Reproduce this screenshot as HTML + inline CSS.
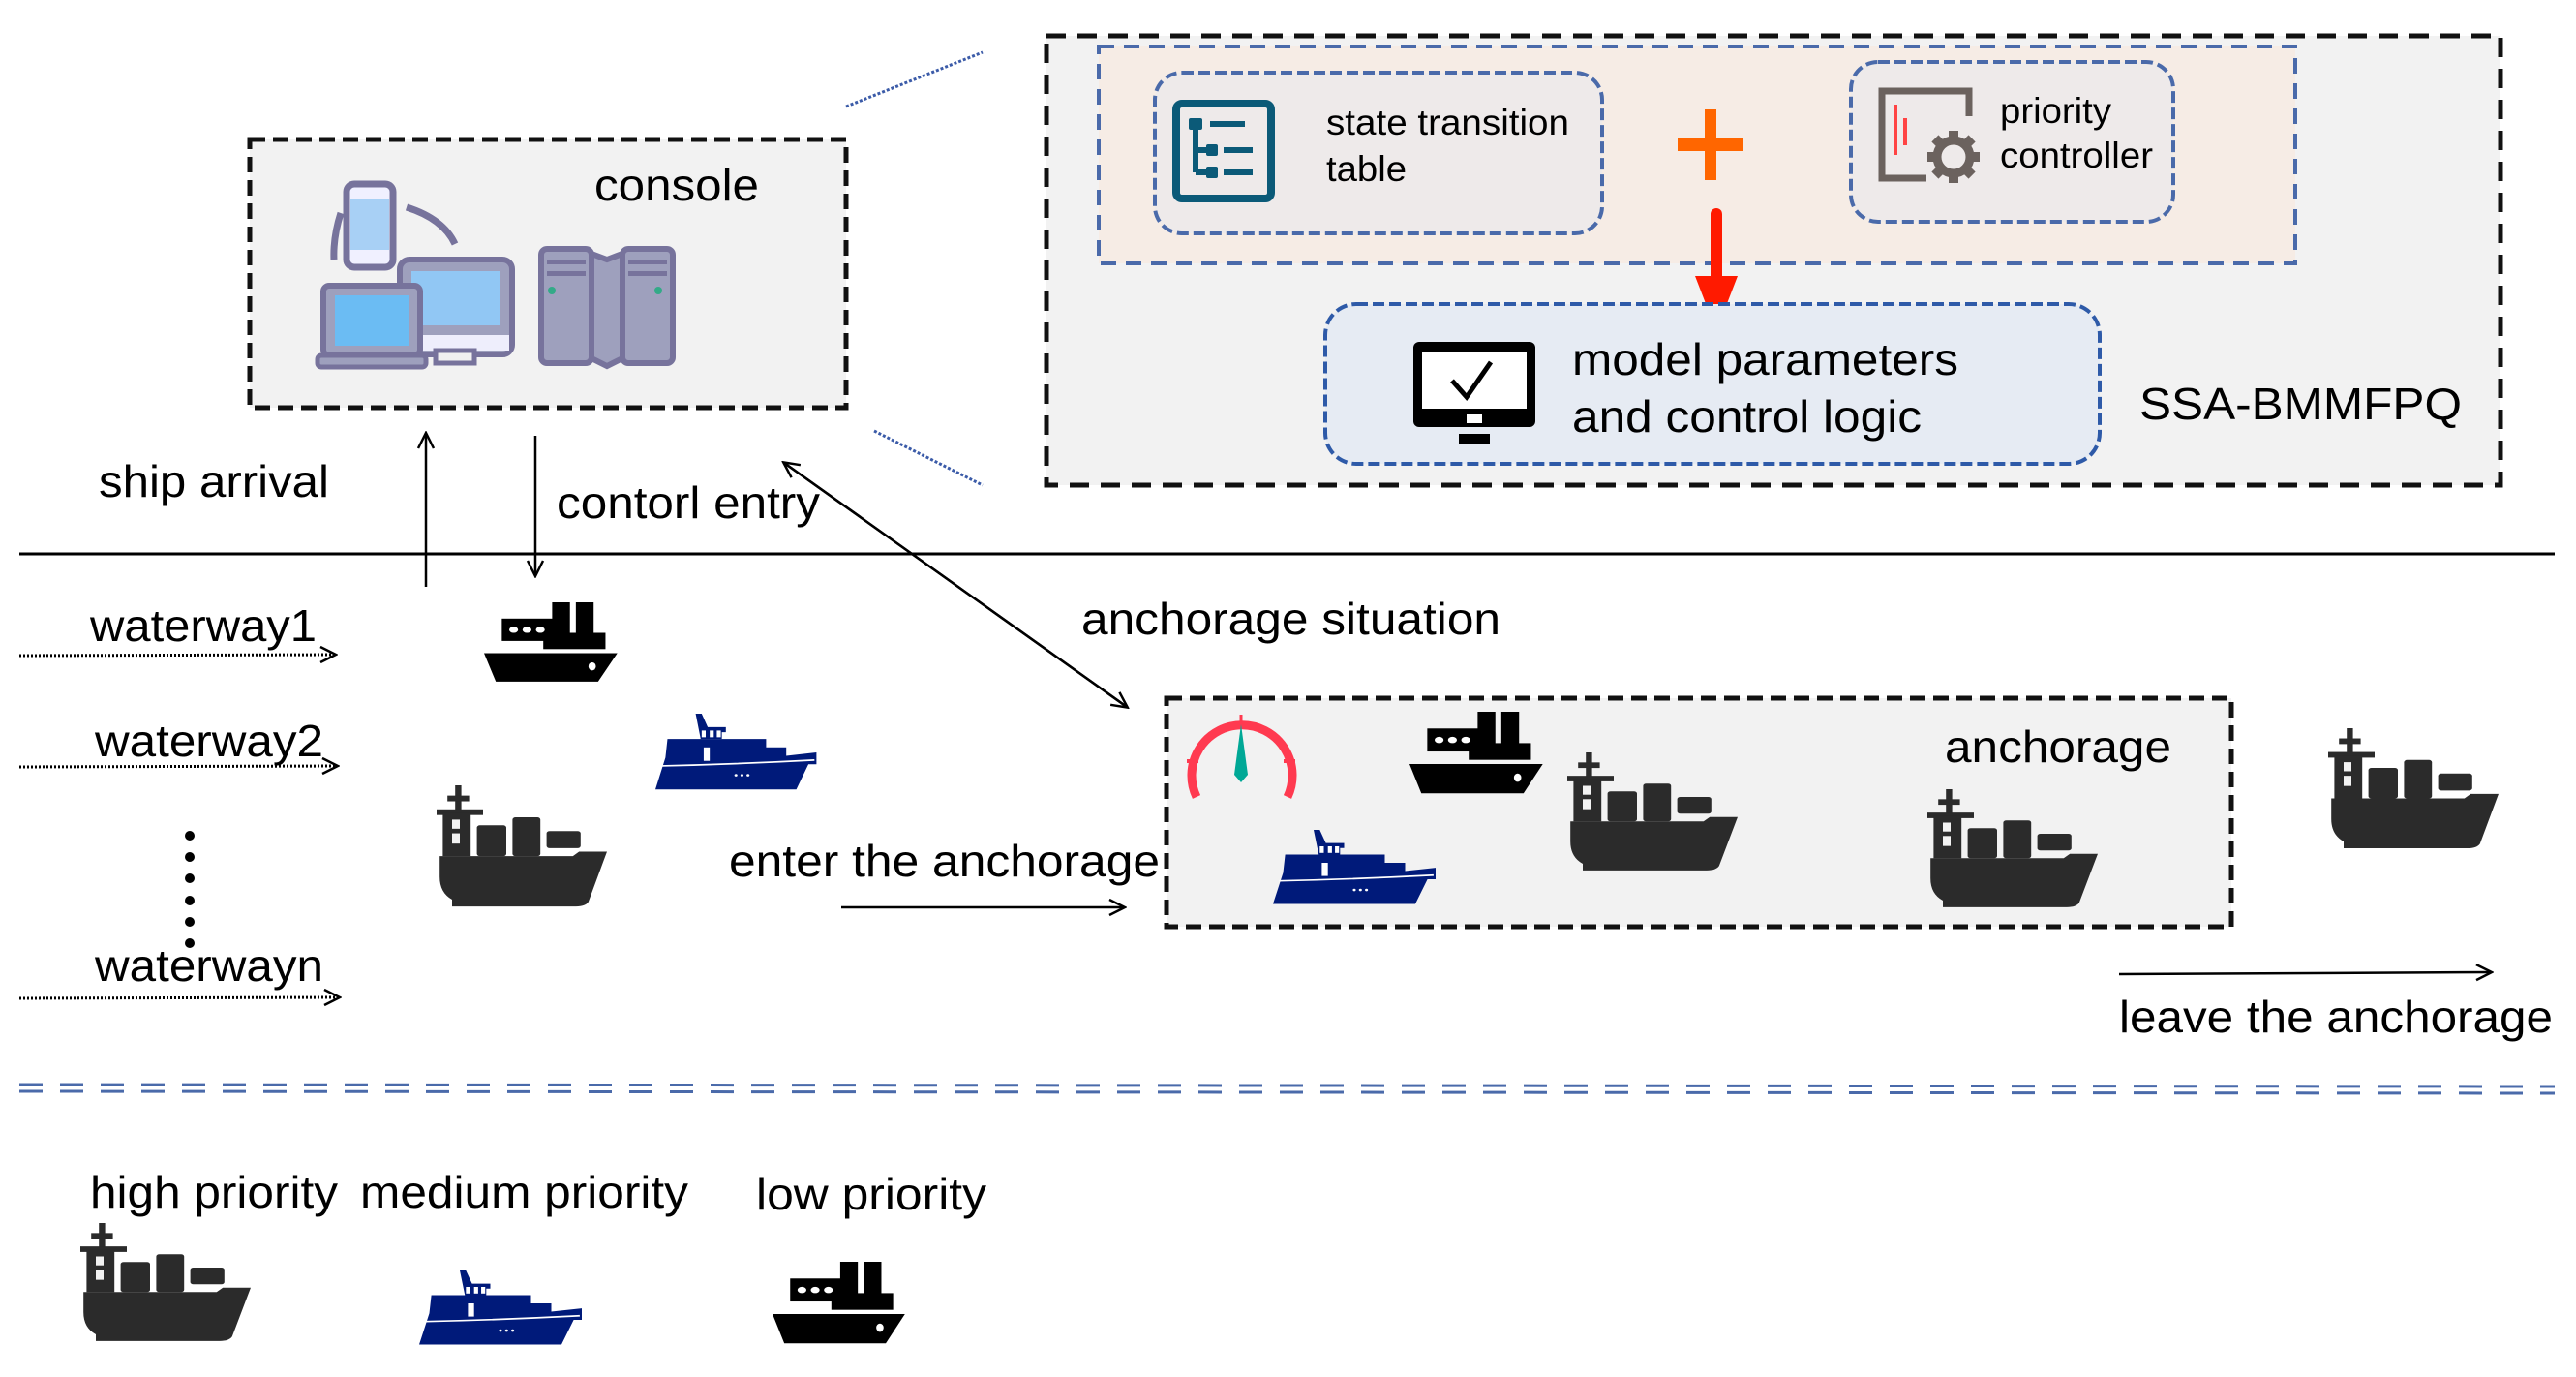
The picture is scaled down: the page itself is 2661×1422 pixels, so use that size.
<!DOCTYPE html>
<html><head><meta charset="utf-8"><style>
html,body{margin:0;padding:0;background:#fff;}
svg{display:block;}
text{font-family:"Liberation Sans",Arial,sans-serif;fill:#000;}
</style></head><body>
<svg width="2661" height="1422" viewBox="0 0 2661 1422" xmlns="http://www.w3.org/2000/svg">
<defs>
<marker id="ah" markerWidth="20" markerHeight="20" refX="17" refY="10" orient="auto" markerUnits="userSpaceOnUse">
<path d="M2,2 L18,10 L2,18" fill="none" stroke="#000" stroke-width="2.5"/>
</marker>
<g id="cargo">
<rect x="12" y="0" width="4" height="22" fill="#2b2b2b"/>
<rect x="7" y="9" width="14" height="5" fill="#2b2b2b"/>
<rect x="0" y="21" width="30" height="5" fill="#2b2b2b"/>
<rect x="4" y="24" width="18" height="38" fill="#2b2b2b"/>
<rect x="10" y="30" width="5" height="8" fill="#f2f2f2"/>
<rect x="10" y="42" width="5" height="9" fill="#f2f2f2"/>
<rect x="26" y="35" width="19" height="27" rx="2" fill="#2b2b2b"/>
<rect x="49" y="28" width="18" height="34" rx="2" fill="#2b2b2b"/>
<rect x="71" y="40" width="22" height="15" rx="2" fill="#2b2b2b"/>
<path d="M2,62 L88,62 L92,58 L110,58 L98,102 Q96,106 90,106 L10,106 L10,100 Q2,94 2,80 Z" fill="#2b2b2b"/>
</g>
<g id="small">
<rect x="46" y="0" width="12" height="32" fill="#000"/>
<rect x="62" y="0" width="12" height="32" fill="#000"/>
<rect x="12" y="16" width="38" height="22" fill="#000"/>
<rect x="40" y="30" width="42" height="16" fill="#000"/>
<circle cx="20" cy="27" r="3" fill="#fff"/><circle cx="29" cy="27" r="3" fill="#fff"/><circle cx="38" cy="27" r="3" fill="#fff"/>
<path d="M0,50 L90,50 L77,78 L8,78 Z" fill="#000"/>
<ellipse cx="73" cy="63" rx="2.5" ry="4" fill="#fff"/>
</g>
<g id="yacht">
<path d="M40,0 L46,0 L52,16 L70,16 L70,22 L66,22 L66,30 L45,30 Z" fill="#001a7a"/>
<rect x="46" y="20" width="4" height="8" fill="#fff"/><rect x="54" y="20" width="4" height="8" fill="#fff"/><rect x="61" y="20" width="4" height="8" fill="#fff"/>
<path d="M12,30 L110,30 L110,40 L130,40 L130,50 L160,46 L160,60 L152,60 L140,90 L0,90 L10,52 Z" fill="#001a7a"/>
<rect x="48" y="40" width="6" height="16" fill="#fff"/>
<path d="M6,62 Q80,60 158,55" stroke="#fff" stroke-width="2" fill="none"/>
<circle cx="80" cy="73" r="1.5" fill="#fff"/><circle cx="86" cy="73" r="1.5" fill="#fff"/><circle cx="92" cy="73" r="1.5" fill="#fff"/>
</g>
</defs>

<rect x="258" y="144" width="616" height="277" fill="#f2f2f2" stroke="#111" stroke-width="5" stroke-dasharray="16,8"/>
<text x="614" y="207" font-size="46" textLength="170" lengthAdjust="spacingAndGlyphs">console</text>
<g stroke="#77739c" stroke-width="7" fill="none">
<path d="M345,268 Q344,245 352,220"/><path d="M420,214 Q458,226 470,252"/>
</g>
<rect x="358" y="190" width="48" height="86" rx="8" fill="#f0f0ff" stroke="#77739c" stroke-width="7"/>
<rect x="362" y="206" width="40" height="52" fill="#a8d0f5"/>
<rect x="413" y="268" width="116" height="98" rx="10" fill="#9ea0bd" stroke="#77739c" stroke-width="6"/>
<rect x="425" y="280" width="92" height="56" fill="#91c7f4"/>
<rect x="418" y="346" width="108" height="16" fill="#eeeefc"/>
<rect x="450" y="362" width="40" height="13" fill="#f0f0f0" stroke="#77739c" stroke-width="5"/>
<rect x="334" y="295" width="100" height="72" rx="6" fill="#9ea0bd" stroke="#77739c" stroke-width="6"/>
<rect x="346" y="305" width="76" height="52" fill="#6bbcf3"/>
<rect x="328" y="367" width="112" height="12" rx="4" fill="#9ea0bd" stroke="#77739c" stroke-width="5"/>
<g fill="#9ea0bd" stroke="#77739c" stroke-width="6">
<rect x="559" y="257" width="52" height="118" rx="6"/>
<rect x="643" y="257" width="52" height="118" rx="6"/>
<path d="M611,262 L627,268 L643,262 L643,370 L627,378 L611,370 Z"/>
</g>
<g fill="#77739c">
<rect x="565" y="268" width="40" height="5"/><rect x="565" y="280" width="40" height="5"/>
<rect x="649" y="268" width="40" height="5"/><rect x="649" y="280" width="40" height="5"/>
</g>
<circle cx="570" cy="300" r="4" fill="#33aa88"/><circle cx="680" cy="300" r="4" fill="#33aa88"/>

<line x1="874" y1="110" x2="1015" y2="54" stroke="#3b5ba8" stroke-width="3" stroke-dasharray="3,2"/>
<line x1="903" y1="445" x2="1015" y2="501" stroke="#3b5ba8" stroke-width="3" stroke-dasharray="3,2"/>

<rect x="1081" y="37" width="1502" height="464" fill="#f2f2f2" stroke="#111" stroke-width="5" stroke-dasharray="20,12"/>
<rect x="1135" y="48" width="1236" height="224" fill="#f6ece5" stroke="#4a6aaa" stroke-width="4" stroke-dasharray="16,10"/>
<rect x="1193" y="75" width="462" height="166" rx="28" fill="#eeeaea" stroke="#4a6aaa" stroke-width="4" stroke-dasharray="12,5"/>
<rect x="1215" y="107" width="98" height="98" rx="6" fill="none" stroke="#0b5a78" stroke-width="8"/>
<g stroke="#0b5a78" stroke-width="6" fill="none">
<line x1="1235" y1="128" x2="1235" y2="178"/><line x1="1235" y1="155" x2="1250" y2="155"/><line x1="1235" y1="178" x2="1250" y2="178"/>
</g>
<g fill="#0b5a78">
<rect x="1228" y="122" width="14" height="12" rx="2"/><rect x="1246" y="149" width="12" height="12" rx="2"/><rect x="1246" y="172" width="12" height="12" rx="2"/>
<rect x="1250" y="125" width="36" height="6"/><rect x="1264" y="152" width="30" height="6"/><rect x="1264" y="175" width="30" height="6"/>
</g>
<text x="1370" y="139" font-size="37" textLength="251" lengthAdjust="spacingAndGlyphs">state transition</text>
<text x="1370" y="187" font-size="37" textLength="83" lengthAdjust="spacingAndGlyphs">table</text>
<rect x="1761" y="113" width="12" height="73" fill="#ff6600"/>
<rect x="1733" y="143" width="68" height="13" fill="#ff6600"/>
<rect x="1912" y="64" width="333" height="165" rx="28" fill="#eeeaea" stroke="#4a6aaa" stroke-width="4" stroke-dasharray="12,5"/>
<path d="M1990,184 L1944,184 L1944,94 L2034,94 L2034,120" fill="none" stroke="#6b625e" stroke-width="7"/>
<line x1="1958" y1="108" x2="1958" y2="160" stroke="#ff4444" stroke-width="4"/>
<line x1="1968" y1="122" x2="1968" y2="150" stroke="#ff4444" stroke-width="4"/>
<g transform="translate(2018,162)">
<circle r="17" fill="none" stroke="#6b625e" stroke-width="9"/>
<g fill="#6b625e"><rect x="-5" y="-27" width="10" height="12"/><rect x="-5" y="15" width="10" height="12"/><rect x="-27" y="-5" width="12" height="10"/><rect x="15" y="-5" width="12" height="10"/>
<rect x="-5" y="-27" width="10" height="12" transform="rotate(45)"/><rect x="-5" y="15" width="10" height="12" transform="rotate(45)"/><rect x="-27" y="-5" width="12" height="10" transform="rotate(45)"/><rect x="15" y="-5" width="12" height="10" transform="rotate(45)"/></g>
</g>
<text x="2066" y="127" font-size="37" textLength="115" lengthAdjust="spacingAndGlyphs">priority</text>
<text x="2066" y="173" font-size="37" textLength="158" lengthAdjust="spacingAndGlyphs">controller</text>
<line x1="1773" y1="221" x2="1773" y2="292" stroke="#ff1a00" stroke-width="12" stroke-linecap="round"/>
<path d="M1751,285 L1795,285 L1773,342 Z" fill="#ff1a00"/>
<rect x="1369" y="314" width="800" height="165" rx="32" fill="#e6ebf3" stroke="#2e5aa8" stroke-width="4" stroke-dasharray="12,5"/>
<rect x="1460" y="353" width="126" height="88" rx="6" fill="#000"/>
<rect x="1469" y="364" width="108" height="58" fill="#fff"/>
<path d="M1500,393 L1515,410 L1540,374" fill="none" stroke="#000" stroke-width="5"/>
<rect x="1515" y="428" width="16" height="9" fill="#fff"/>
<rect x="1507" y="448" width="32" height="10" fill="#000"/>
<text x="1624" y="387" font-size="46" textLength="399" lengthAdjust="spacingAndGlyphs">model parameters</text>
<text x="1624" y="446" font-size="46" textLength="361" lengthAdjust="spacingAndGlyphs">and control logic</text>
<text x="2210" y="433" font-size="46" textLength="333" lengthAdjust="spacingAndGlyphs">SSA-BMMFPQ</text>

<line x1="20" y1="572" x2="2639" y2="572" stroke="#000" stroke-width="3"/>

<line x1="440" y1="606" x2="440" y2="448" stroke="#000" stroke-width="2.5" marker-end="url(#ah)"/>
<line x1="553" y1="450" x2="553" y2="594" stroke="#000" stroke-width="2.5" marker-end="url(#ah)"/>
<line x1="1164" y1="730" x2="810" y2="478" stroke="#000" stroke-width="2.5" marker-end="url(#ah)"/>
<line x1="810" y1="478" x2="1164" y2="730" stroke="#000" stroke-width="2.5" marker-end="url(#ah)"/>
<line x1="869" y1="937" x2="1161" y2="937" stroke="#000" stroke-width="2.5" marker-end="url(#ah)"/>
<line x1="2189" y1="1006" x2="2573" y2="1004" stroke="#000" stroke-width="2.5" marker-end="url(#ah)"/>
<g stroke="#000" stroke-width="3" stroke-dasharray="2,2">
<line x1="20" y1="677" x2="346" y2="676" marker-end="url(#ah)"/>
<line x1="20" y1="792" x2="348" y2="791" marker-end="url(#ah)"/>
<line x1="20" y1="1031" x2="350" y2="1030" marker-end="url(#ah)"/>
</g>
<g fill="#000">
<circle cx="196" cy="863" r="5"/><circle cx="196" cy="885" r="5"/><circle cx="196" cy="907" r="5"/><circle cx="196" cy="930" r="5"/><circle cx="196" cy="952" r="5"/><circle cx="196" cy="974" r="5"/>
</g>

<text x="102" y="513" font-size="46" textLength="238" lengthAdjust="spacingAndGlyphs">ship arrival</text>
<text x="575" y="535" font-size="46" textLength="272" lengthAdjust="spacingAndGlyphs">contorl entry</text>
<text x="93" y="662" font-size="46" textLength="234" lengthAdjust="spacingAndGlyphs">waterway1</text>
<text x="98" y="781" font-size="46" textLength="236" lengthAdjust="spacingAndGlyphs">waterway2</text>
<text x="98" y="1013" font-size="46" textLength="236" lengthAdjust="spacingAndGlyphs">waterwayn</text>
<text x="1117" y="655" font-size="46" textLength="433" lengthAdjust="spacingAndGlyphs">anchorage situation</text>
<text x="753" y="905" font-size="46" textLength="445" lengthAdjust="spacingAndGlyphs">enter the anchorage</text>

<rect x="1205" y="721" width="1100" height="236" fill="#f2f2f2" stroke="#111" stroke-width="5" stroke-dasharray="16,8"/>
<text x="2009" y="787" font-size="46" textLength="234" lengthAdjust="spacingAndGlyphs">anchorage</text>
<path d="M1236,823 A52,52 0 1 1 1330,823" fill="none" stroke="#ff3a50" stroke-width="9"/>
<line x1="1282" y1="738" x2="1282" y2="750" stroke="#ff3a50" stroke-width="3"/>
<line x1="1226" y1="786" x2="1238" y2="786" stroke="#ff3a50" stroke-width="4"/>
<line x1="1326" y1="786" x2="1338" y2="786" stroke="#ff3a50" stroke-width="4"/>
<path d="M1282,748 L1289,800 L1282,808 L1275,800 Z" fill="#00a896"/>

<text x="2189" y="1066" font-size="46" textLength="448" lengthAdjust="spacingAndGlyphs">leave the anchorage</text>

<use href="#small" transform="translate(500,622) scale(1.53,1.05)"/>
<use href="#small" transform="translate(1456,735) scale(1.53,1.08)"/>
<use href="#small" transform="translate(798,1303) scale(1.52,1.08)"/>
<use href="#yacht" transform="translate(677,737) scale(1.04,0.87)"/>
<use href="#yacht" transform="translate(1315,857) scale(1.05,0.85)"/>
<use href="#yacht" transform="translate(433,1312) scale(1.05,0.85)"/>
<use href="#cargo" transform="translate(451,811) scale(1.6,1.18)"/>
<use href="#cargo" transform="translate(1619,777) scale(1.6,1.15)"/>
<use href="#cargo" transform="translate(1991,815) scale(1.6,1.15)"/>
<use href="#cargo" transform="translate(2405,752) scale(1.6,1.17)"/>
<use href="#cargo" transform="translate(83,1263) scale(1.6,1.15)"/>

<g stroke="#4a6aaa" stroke-width="3" stroke-dasharray="24,18">
<line x1="20" y1="1120" x2="2639" y2="1122"/>
<line x1="20" y1="1127" x2="2639" y2="1129"/>
</g>

<text x="93" y="1247" font-size="46" textLength="256" lengthAdjust="spacingAndGlyphs">high priority</text>
<text x="372" y="1247" font-size="46" textLength="339" lengthAdjust="spacingAndGlyphs">medium priority</text>
<text x="781" y="1249" font-size="46" textLength="238" lengthAdjust="spacingAndGlyphs">low priority</text>
</svg>
</body></html>
